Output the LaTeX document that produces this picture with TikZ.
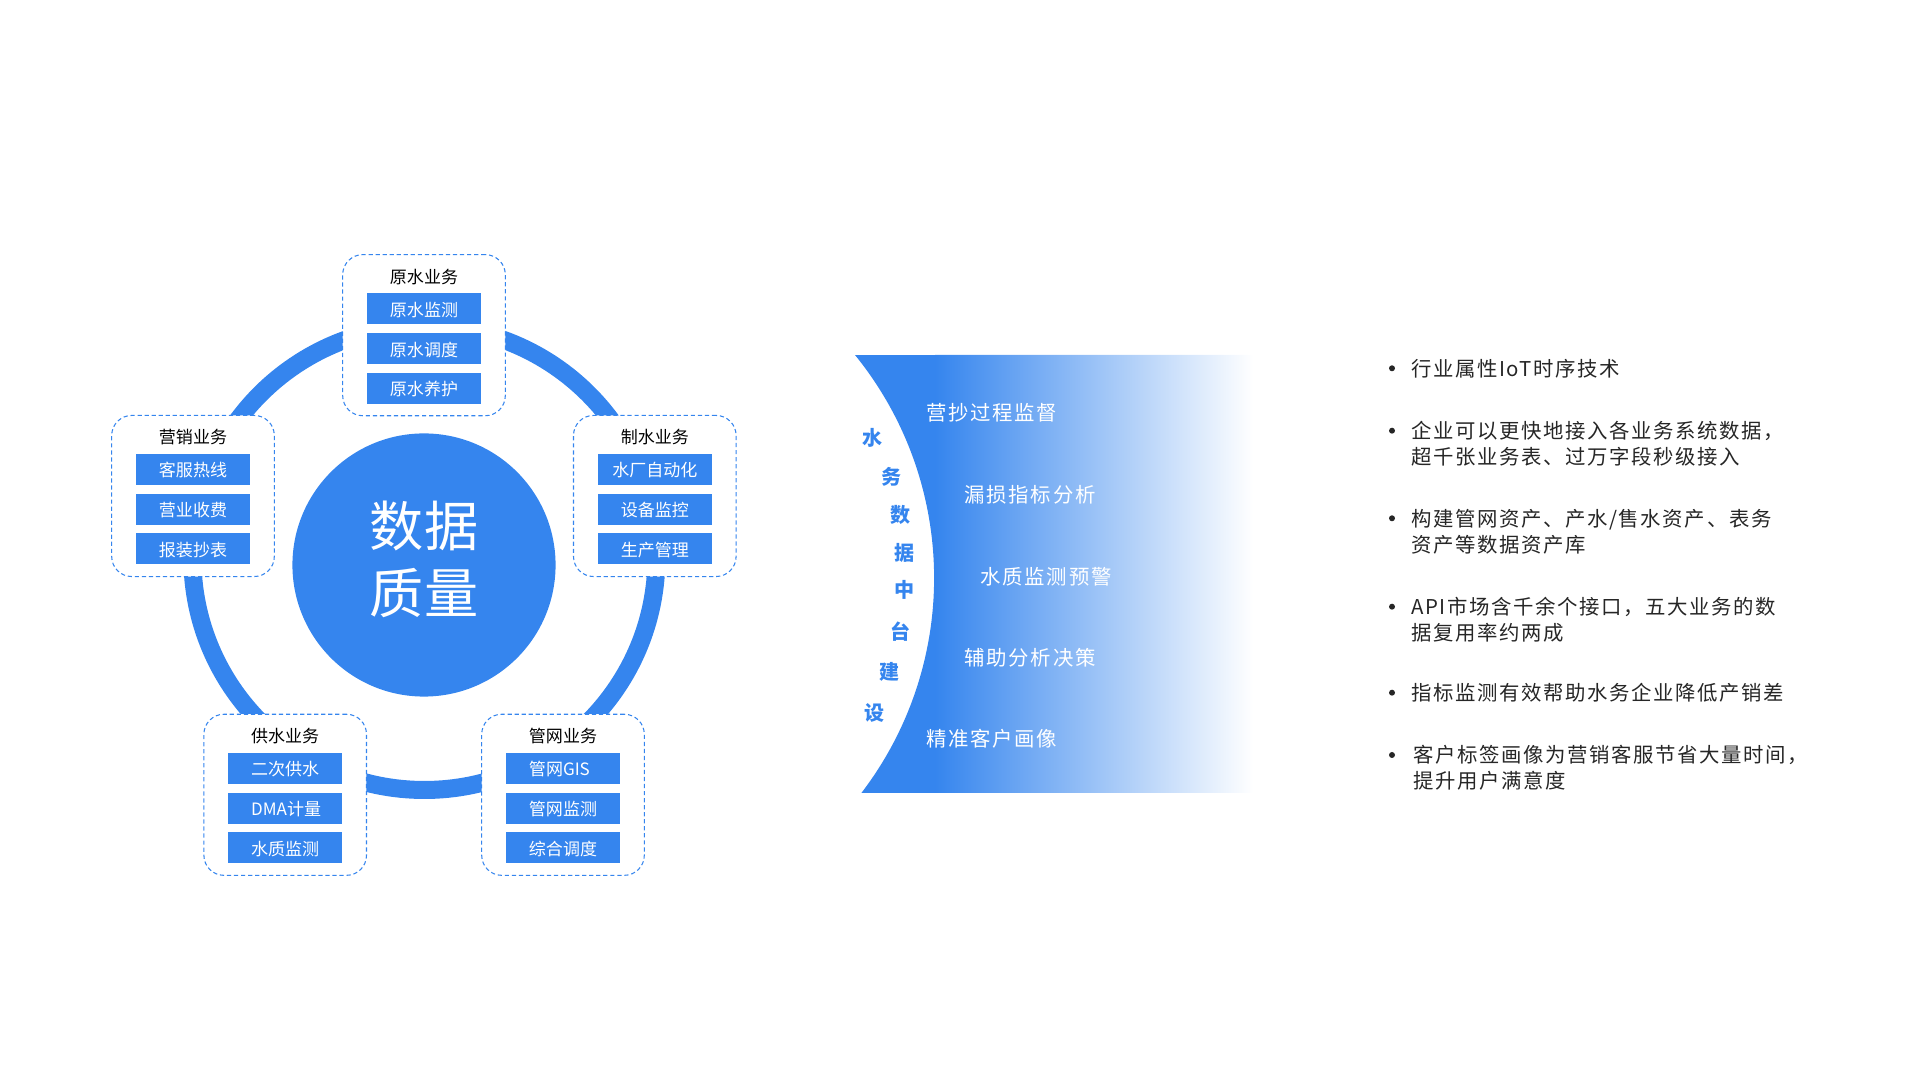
\documentclass[tikz,border=0pt]{standalone}
\usepackage{fontspec}
\setmainfont{Noto Sans CJK SC}
\newfontfamily\notefont[LetterSpace=8]{Noto Sans CJK SC}
\usetikzlibrary{positioning}
\definecolor{waterblue}{HTML}{3585EE}
\definecolor{notegray}{HTML}{262626}
\newcommand{\lefttext}[1]{\makebox[0.68cm][l]{#1}}
\tikzset{
  ring/.style={draw=waterblue,line width=0.18cm},
  corecircle/.style={circle,fill=waterblue,inner sep=0pt,minimum size=2.63cm},
  coretext/.style={text=white,inner sep=0pt,font=\fontsize{15.4pt}{17pt}\selectfont},
  groupbox/.style={draw=waterblue,fill=white,dashed,dash pattern=on 1.2pt off 0.8pt,line width=0.3pt,
    rounded corners=0.2cm,minimum width=1.625cm,minimum height=1.61cm,inner sep=0pt},
  headtext/.style={text=black,inner sep=0pt,font=\fontsize{4.84pt}{6pt}\selectfont},
  itembox/.style={fill=waterblue,text=white,inner sep=0pt,minimum width=1.14cm,minimum height=0.31cm,
    text height=0.18cm,text depth=0.03cm,font=\fontsize{4.84pt}{6pt}\selectfont},
  bandtext/.style={text=white,anchor=west,inner sep=0pt,font=\notefont\fontsize{5.8pt}{7pt}\selectfont},
  sidetext/.style={text=waterblue,inner sep=0pt,font=\bfseries\fontsize{5.7pt}{7pt}\selectfont},
  notetext/.style={text=notegray,anchor=west,align=left,inner sep=0pt,font=\notefont\fontsize{5.8pt}{7.4pt}\selectfont},
  notedot/.style={circle,fill=notegray,inner sep=0pt,minimum size=0.06cm}
}
\begin{document}
\begin{tikzpicture}[x=0.01cm,y=-0.01cm]
  \useasboundingbox (0,0) rectangle (1920,1080);
  % ring and core
  \draw[ring] (424.4,558) circle[radius=232];
  \node[corecircle] (core) at (424,565) {};
  \node[coretext] (coreA) at (424,526) {数据};
  \node[coretext] (coreB) at (424,593) {质量};
  % business groups
  \foreach \grp/\cx/\top/\head/\itemA/\itemB/\itemC in {
    raw/424/254.7/原水业务/原水监测/原水调度/原水养护,
    plant/654.8/415.5/制水业务/水厂自动化/设备监控/生产管理,
    sales/193/415.5/营销业务/客服热线/营业收费/报装抄表,
    supply/285.2/714.3/供水业务/二次供水/\lefttext{DMA计量}/水质监测,
    pipe/563/714.3/管网业务/\lefttext{管网GIS}/管网监测/综合调度}{
    \node[groupbox] (\grp) at (\cx,\top+80.5) {};
    \node[headtext] (\grp head) at (\cx,\top+22) {\head};
    \node[itembox] (\grp A) at (\cx,\top+54) {\itemA};
    \node[itembox] (\grp B) at (\cx,\top+94) {\itemB};
    \node[itembox] (\grp C) at (\cx,\top+133.5) {\itemC};
  }
  % gradient band
  \begin{scope}
    \clip (855,355) arc[start angle=-39.06,end angle=37.4,radius=354] -- (1260,793) -- (1260,355) -- cycle;
    \fill[waterblue] (850,355) rectangle (936,793);
    \shade[left color=waterblue,right color=white] (935,355) rectangle (1253,793);
  \end{scope}
  \foreach \x/\y/\txt [count=\i] in {925.5/412.5/营抄过程监督,964.2/495/漏损指标分析,
    980.2/577.2/水质监测预警,964.2/657.5/辅助分析决策,925.5/739/精准客户画像}{
    \node[bandtext] (band\i) at (\x,\y) {\txt};
  }
  % side title
  \foreach \x/\y/\txt [count=\i] in {872.2/437.7/水,891.2/476.7/务,900.5/514.5/数,904.5/552.8/据,
    904.5/590/中,900.5/631.7/台,890/671.7/建,874.2/712.7/设}{
    \node[sidetext] (side\i) at (\x,\y) {\txt};
  }
  % notes
  \foreach \x/\y/\dy/\txt [count=\i] in {
    1410.3/368.5/368.3/行业属性IoT时序技术,
    1410.3/444/430.7/{企业可以更快地接入各业务系统数据，\\超千张业务表、过万字段秒级接入},
    1410.3/531.5/518.3/{构建管网资产、产水/售水资产、表务\\资产等数据资产库},
    1410.3/619.5/606.7/{API市场含千余个接口，五大业务的数\\据复用率约两成},
    1410.3/693/692.7/指标监测有效帮助水务企业降低产销差,
    1412.3/768.2/755/{客户标签画像为营销客服节省大量时间，\\提升用户满意度}}{
    \node[notetext] (note\i) at (\x,\y) {\txt};
    \node[notedot] (dot\i) at (1392,\dy) {};
  }
\end{tikzpicture}
\end{document}
